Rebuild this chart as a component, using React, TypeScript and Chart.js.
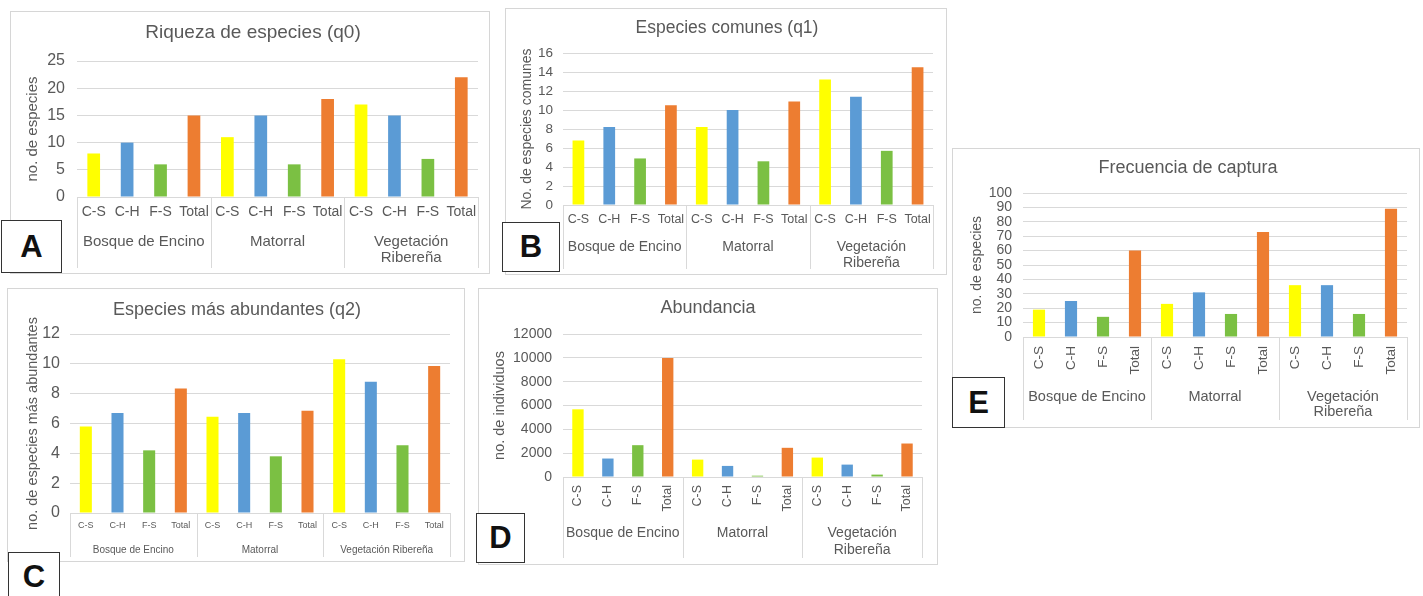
import React, { useEffect, useRef } from "react";
import { Chart, registerables } from "chart.js";

Chart.register(...registerables);
Chart.defaults.font.family = "'Liberation Sans', Arial, sans-serif";
Chart.defaults.color = "#595959";

// ---------- data ----------
const subLabels = ["C-S", "C-H", "F-S", "Total", "C-S", "C-H", "F-S", "Total", "C-S", "C-H", "F-S", "Total"];
const groupLabelsTwoLine: (string | string[])[] = ["Bosque de Encino", "Matorral", ["Vegetación", "Ribereña"]];
const groupLabelsOneLine: (string | string[])[] = ["Bosque de Encino", "Matorral", "Vegetación Ribereña"];
const barColors = ["#FFFF00", "#5B9BD5", "#7BC043", "#ED7D31", "#FFFF00", "#5B9BD5", "#7BC043", "#ED7D31", "#FFFF00", "#5B9BD5", "#7BC043", "#ED7D31"];

const riquezaQ0 = [8, 10, 6, 15, 11, 15, 6, 18, 17, 15, 7, 22];
const comunesQ1 = [6.8, 8.2, 4.9, 10.5, 8.2, 10.0, 4.6, 10.9, 13.2, 11.4, 5.7, 14.5];
const abundantesQ2 = [5.8, 6.7, 4.2, 8.35, 6.45, 6.7, 3.8, 6.85, 10.3, 8.8, 4.55, 9.85];
const abundancia = [5680, 1550, 2670, 9980, 1460, 930, 110, 2450, 1630, 1040, 200, 2810];
const frecuencia = [19, 25, 14, 60, 23, 31, 16, 73, 36, 36, 16, 89];

// ---------- layout specs ----------
type Spec = {
  frame: [number, number, number, number];
  title: string; titleSize: number; titleCx: number; titleCy: number;
  plot: [number, number, number, number];
  yTitle: string; yTitleSize: number; yTitleCx: number;
  yTickSize: number; yTickGap: number; yMax: number; yStep: number;
  values: number[];
  groups: (string | string[])[];
  catSize: number; catRotate: boolean; catPad: number; catH: number;
  groupSize: number; groupLH: number; groupPad: number; sepBottom: number;
  letter: string; box: [number, number, number, number];
};

const specs: Spec[] = [
  {
    frame: [10, 11, 480, 263], title: "Riqueza de especies (q0)", titleSize: 19, titleCx: 253, titleCy: 33,
    plot: [77, 61, 478, 197], yTitle: "no. de especies", yTitleSize: 15, yTitleCx: 33,
    yTickSize: 16, yTickGap: 12, yMax: 25, yStep: 5, values: riquezaQ0, groups: groupLabelsTwoLine,
    catSize: 14, catRotate: false, catPad: 7, catH: 20, groupSize: 15, groupLH: 16, groupPad: 17, sepBottom: 268,
    letter: "A", box: [1, 220, 61, 53],
  },
  {
    frame: [505, 8, 442, 267], title: "Especies comunes (q1)", titleSize: 17.5, titleCx: 727, titleCy: 28,
    plot: [563, 53, 933, 205], yTitle: "No. de especies comunes", yTitleSize: 14, yTitleCx: 527,
    yTickSize: 13.5, yTickGap: 10, yMax: 16, yStep: 2, values: comunesQ1, groups: groupLabelsTwoLine,
    catSize: 12.5, catRotate: false, catPad: 7, catH: 22, groupSize: 14, groupLH: 16, groupPad: 12, sepBottom: 269,
    letter: "B", box: [502, 222, 58, 50],
  },
  {
    frame: [7, 288, 458, 274], title: "Especies más abundantes (q2)", titleSize: 18, titleCx: 237, titleCy: 310,
    plot: [70, 334, 450, 513], yTitle: "no. de especies más abundantes", yTitleSize: 14.5, yTitleCx: 33,
    yTickSize: 16, yTickGap: 10, yMax: 12, yStep: 2, values: abundantesQ2, groups: groupLabelsOneLine,
    catSize: 9, catRotate: false, catPad: 7, catH: 20, groupSize: 10, groupLH: 12, groupPad: 11, sepBottom: 557,
    letter: "C", box: [8, 552, 52, 50],
  },
  {
    frame: [478, 288, 460, 277], title: "Abundancia", titleSize: 18, titleCx: 708, titleCy: 308,
    plot: [563, 334, 922, 477], yTitle: "no. de individuos", yTitleSize: 14.5, yTitleCx: 500,
    yTickSize: 14, yTickGap: 11, yMax: 12000, yStep: 2000, values: abundancia, groups: groupLabelsTwoLine,
    catSize: 12.5, catRotate: true, catPad: 8, catH: 43, groupSize: 14, groupLH: 17, groupPad: 4.5, sepBottom: 558,
    letter: "D", box: [476, 513, 49, 50],
  },
  {
    frame: [952, 148, 468, 280], title: "Frecuencia de captura", titleSize: 18, titleCx: 1188, titleCy: 168,
    plot: [1023, 193, 1407, 337], yTitle: "no. de especies", yTitleSize: 14, yTitleCx: 977,
    yTickSize: 14, yTickGap: 11, yMax: 100, yStep: 10, values: frecuencia, groups: groupLabelsTwoLine,
    catSize: 13.5, catRotate: true, catPad: 9, catH: 44, groupSize: 14.5, groupLH: 15.5, groupPad: 8, sepBottom: 420,
    letter: "E", box: [952, 377, 53, 51],
  },
];

const GRID = "#D9D9D9";
const TEXT = "#595959";

const separatorPlugin = {
  id: "groupSeparators",
  afterDraw(chart: any) {
    const x = chart.scales.x;
    const x2 = chart.scales.x2;
    if (!x || !x2) return;
    const nGroups = (x2.getLabels() || []).length;
    const perGroup = subLabels.length / nGroups;
    const ctx = chart.ctx;
    ctx.save();
    ctx.strokeStyle = GRID;
    ctx.lineWidth = 1;
    for (let k = 0; k <= nGroups; k++) {
      const px = Math.round(x.getPixelForValue(k * perGroup - 0.5)) + 0.5;
      ctx.beginPath();
      ctx.moveTo(px, chart.chartArea.bottom);
      ctx.lineTo(px, x2.bottom);
      ctx.stroke();
    }
    ctx.restore();
  },
};

function Panel({ spec }: { spec: Spec }) {
  const ref = useRef<HTMLCanvasElement>(null);
  const [fx, fy, fw, fh] = spec.frame;

  useEffect(() => {
    if (!ref.current) return;
    const [pl, pt, pr, pb] = spec.plot;
    const tLH = spec.titleSize * 1.2;
    const padR = fx + fw - pr;
    let padL = 2 * (spec.titleCx - fx) - (pr - fx);
    if (padL < 0) padL = 0;
    const yW = pl - fx - padL;
    const tPadTop = spec.titleCy - fy - tLH / 2;
    const tPadBot = pt - fy - tPadTop - tLH;
    const x2H = spec.sepBottom - pb - spec.catH;
    const padB = fh - (pb - fy) - spec.catH - x2H;
    const yTLH = spec.yTitleSize * 1.2;
    const yTitlePad = spec.yTitleCx - fx - padL - yTLH / 2;
    const rot = spec.catRotate ? 90 : 0;

    const chart = new Chart(ref.current, {
      type: "bar",
      data: {
        labels: subLabels,
        datasets: [
          {
            data: spec.values,
            backgroundColor: barColors,
            borderWidth: 0,
            barPercentage: 0.38,
            categoryPercentage: 1,
          },
        ],
      },
      options: {
        responsive: false,
        maintainAspectRatio: false,
        animation: false,
        layout: { padding: { left: padL, right: padR, top: 0, bottom: padB } },
        plugins: {
          legend: { display: false },
          tooltip: { enabled: false },
          title: {
            display: true,
            text: spec.title,
            color: TEXT,
            font: { size: spec.titleSize, weight: "normal" },
            padding: { top: tPadTop, bottom: tPadBot },
          },
        },
        scales: {
          x: {
            type: "category",
            position: "bottom",
            offset: true,
            weight: 0,
            grid: { display: false, drawTicks: false },
            border: { display: true, color: GRID },
            ticks: {
              autoSkip: false,
              maxRotation: rot,
              minRotation: rot,
              padding: spec.catPad,
              color: TEXT,
              font: { size: spec.catSize },
            },
            afterFit: (s: any) => { s.height = spec.catH; },
          },
          x2: {
            type: "category",
            labels: spec.groups as any,
            position: "bottom",
            offset: true,
            weight: 1,
            grid: { display: false, drawTicks: false },
            border: { display: false },
            ticks: {
              autoSkip: false,
              maxRotation: 0,
              minRotation: 0,
              padding: spec.groupPad,
              color: TEXT,
              font: { size: spec.groupSize, lineHeight: spec.groupLH / spec.groupSize },
            },
            afterFit: (s: any) => { s.height = x2H; },
          },
          y: {
            min: 0,
            max: spec.yMax,
            grid: { color: GRID, drawTicks: false },
            border: { display: false },
            ticks: {
              stepSize: spec.yStep,
              autoSkip: false,
              padding: spec.yTickGap,
              color: TEXT,
              font: { size: spec.yTickSize },
              callback: (v: any) => String(v),
            },
            title: {
              display: true,
              text: spec.yTitle,
              color: TEXT,
              font: { size: spec.yTitleSize },
              padding: { top: yTitlePad, bottom: 0 },
            },
            afterFit: (s: any) => { s.width = yW; },
          },
        },
      },
      plugins: [separatorPlugin],
    } as any);
    return () => chart.destroy();
  }, [spec]);

  const [bx, by, bw, bh] = spec.box;
  return (
    <>
      <canvas
        ref={ref}
        width={fw}
        height={fh}
        style={{ position: "absolute", left: fx, top: fy, width: fw, height: fh }}
      />
      <div
        style={{
          position: "absolute", left: fx, top: fy, width: fw, height: fh,
          border: "1px solid #D6D6D6", boxSizing: "border-box", pointerEvents: "none",
        }}
      />
      <div
        style={{
          position: "absolute", left: bx, top: by, width: bw, height: bh,
          border: "1.5px solid #333", boxSizing: "border-box", background: "#fff",
          display: "flex", alignItems: "center", justifyContent: "center",
          fontFamily: "'Liberation Sans', Arial, sans-serif", fontWeight: "bold",
          fontSize: 31, color: "#111",
        }}
      >
        {spec.letter}
      </div>
    </>
  );
}

export default function App() {
  return (
    <div
      style={{
        position: "absolute", left: 0, top: 0, width: 1423, height: 596,
        background: "#fff", overflow: "hidden",
      }}
    >
      {specs.map((s) => (
        <Panel key={s.letter} spec={s} />
      ))}
    </div>
  );
}
